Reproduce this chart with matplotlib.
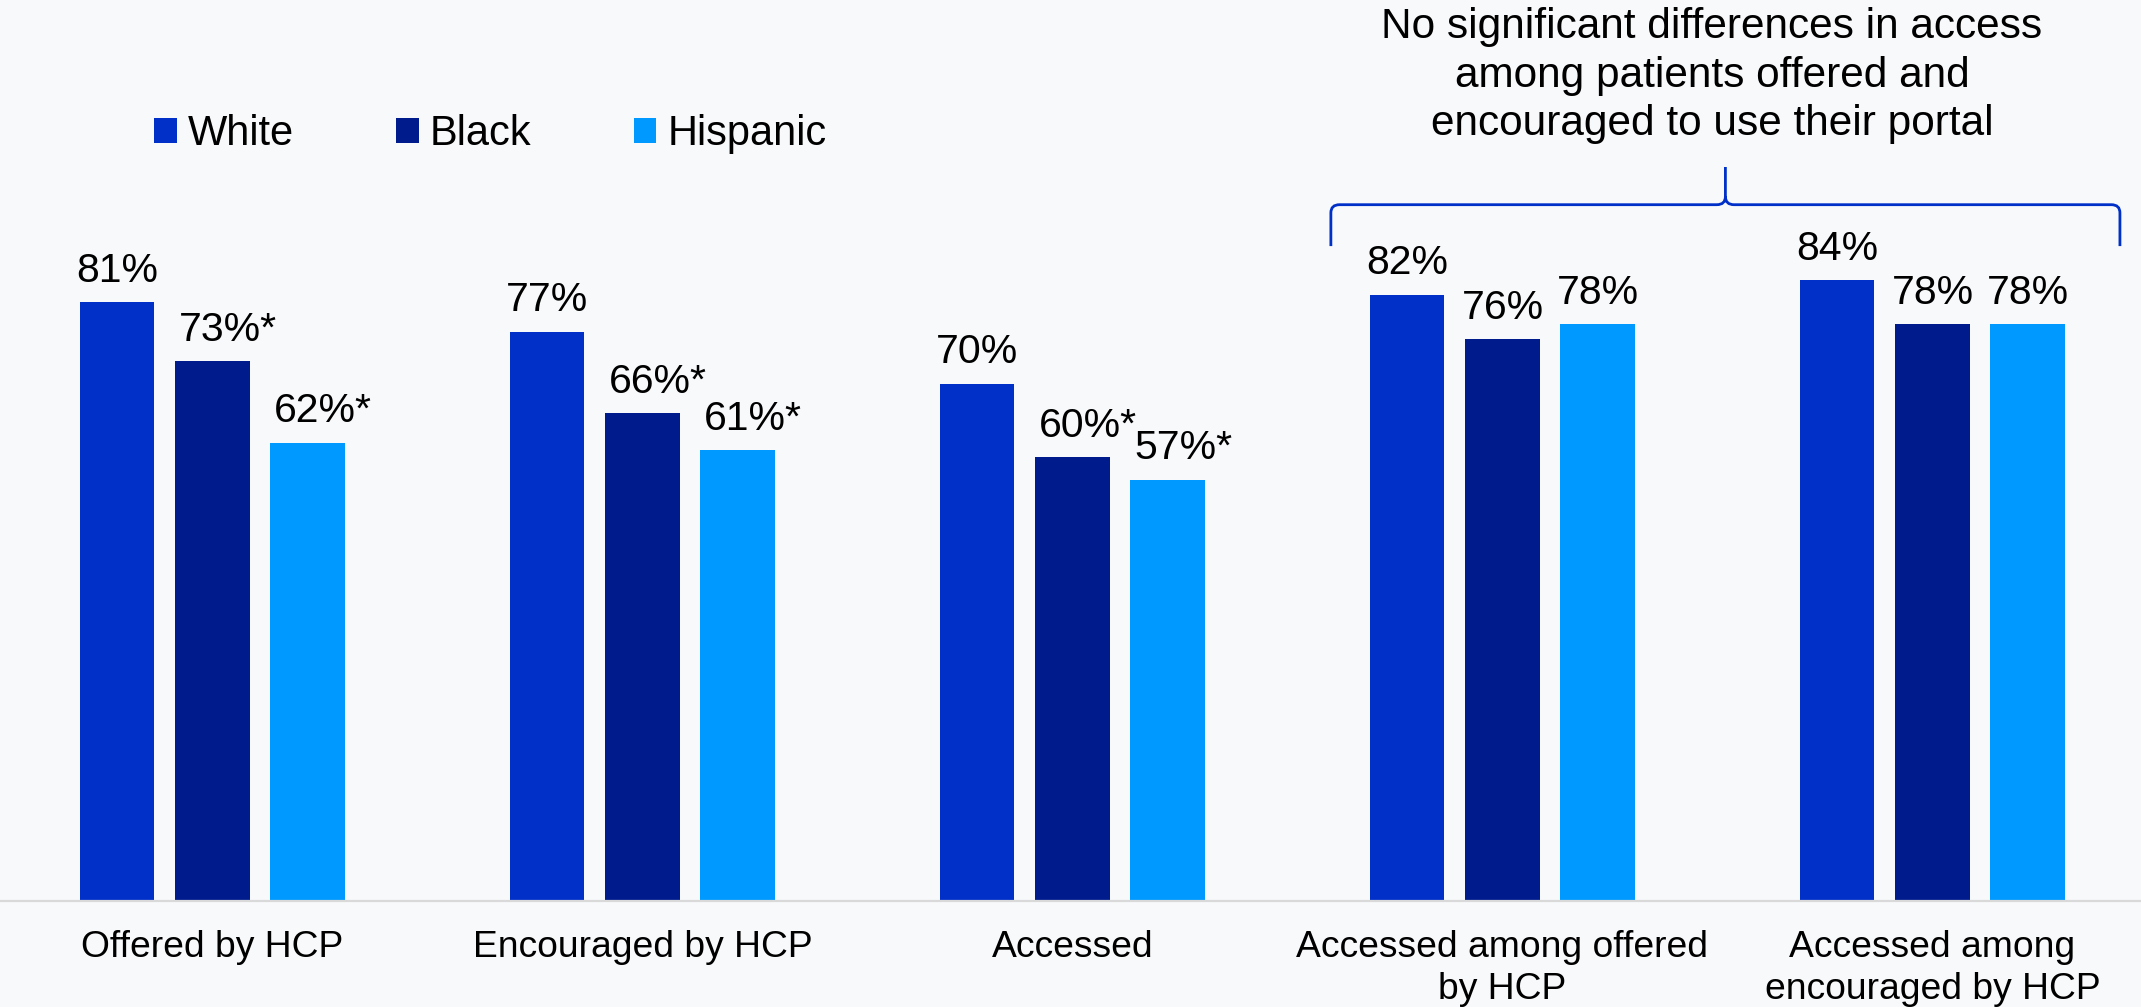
import numpy as np
import matplotlib.pyplot as plt
from matplotlib.patches import Patch, PathPatch
from matplotlib.path import Path

plt.rcParams['font.family'] = ['Liberation Sans', 'DejaVu Sans']

# Data
categories = ["Offered by HCP", "Encouraged by HCP", "Accessed",
              "Accessed among offered\nby HCP", "Accessed among\nencouraged by HCP"]
groups = ["White", "Black", "Hispanic"]
white = [81, 77, 70, 82, 84]
black = [73, 66, 60, 76, 78]
hispanic = [62, 61, 57, 78, 78]
# significant difference vs White
black_sig = [True, True, True, False, False]
hispanic_sig = [True, True, True, False, False]

colors = ["#0030C8", "#001C8C", "#0099FF"]
bg = "#F8F9FB"

fig = plt.figure(figsize=(21.41, 10.07), dpi=100, facecolor=bg)
ax = fig.add_axes([0, 0.1053, 1, 0.734])
ax.set_facecolor(bg)

x = np.arange(len(categories))
step = 0.222
width = 0.174

series = [(white, [False] * 5), (black, black_sig), (hispanic, hispanic_sig)]
for k, (vals, sig) in enumerate(series):
    pos = x + (k - 1) * step
    bars = ax.bar(pos, vals, width, color=colors[k], label=groups[k], zorder=2)
    for b, v, s in zip(bars, vals, sig):
        label = f"{v}%*" if s else f"{v}%"
        dx = 11 if s else 0
        ax.annotate(label, (b.get_x() + b.get_width() / 2, b.get_height()),
                    xytext=(dx, 9), textcoords="offset points",
                    ha="center", va="bottom", fontsize=29.5)

ax.set_xlim(-0.494, 4.485)
ax.set_ylim(0, 100)
ax.set_yticks([])
ax.set_xticks(x)
ax.set_xticklabels(categories, fontsize=26.8, linespacing=1.24)
ax.tick_params(axis="x", length=0, pad=21)
for sp in ["top", "left", "right"]:
    ax.spines[sp].set_visible(False)
ax.spines["bottom"].set_color("#D9D9D9")
ax.spines["bottom"].set_linewidth(1.6)

# brace over the last two groups
xl, xr = 2.601, 4.436
xm = (xl + xr) / 2
y_line, y_end, y_tip = 94.2, 88.6, 99.3
rx, ry = 0.02, 1.1
verts = [(xl, y_end), (xl, y_line - ry), (xl, y_line), (xl + rx, y_line),
         (xm - rx, y_line), (xm, y_line), (xm, y_line + ry), (xm, y_tip),
         (xm, y_line + ry), (xm, y_line), (xm + rx, y_line),
         (xr - rx, y_line), (xr, y_line), (xr, y_line - ry), (xr, y_end)]
codes = [Path.MOVETO, Path.LINETO, Path.CURVE3, Path.CURVE3,
         Path.LINETO, Path.CURVE3, Path.CURVE3, Path.LINETO,
         Path.MOVETO, Path.CURVE3, Path.CURVE3,
         Path.LINETO, Path.CURVE3, Path.CURVE3, Path.LINETO]
ax.add_patch(PathPatch(Path(verts, codes), fill=False, edgecolor="#0030C8",
                       linewidth=2.0, clip_on=False, capstyle="butt"))

fig.text(0.7996, 0.925, "No significant differences in access\namong patients offered and\n"
         "encouraged to use their portal", ha="center", va="center",
         fontsize=30.5, linespacing=1.26)

handles = [Patch(facecolor=c) for c in colors]
fig.legend(handles, groups, loc="center left", bbox_to_anchor=(0.072, 0.867),
           ncol=3, frameon=False, fontsize=30, handlelength=0.55,
           handleheight=0.55, handletextpad=0.26, columnspacing=2.45,
           borderpad=0, borderaxespad=0)

fig.savefig("out.png", dpi=100, facecolor=bg)
